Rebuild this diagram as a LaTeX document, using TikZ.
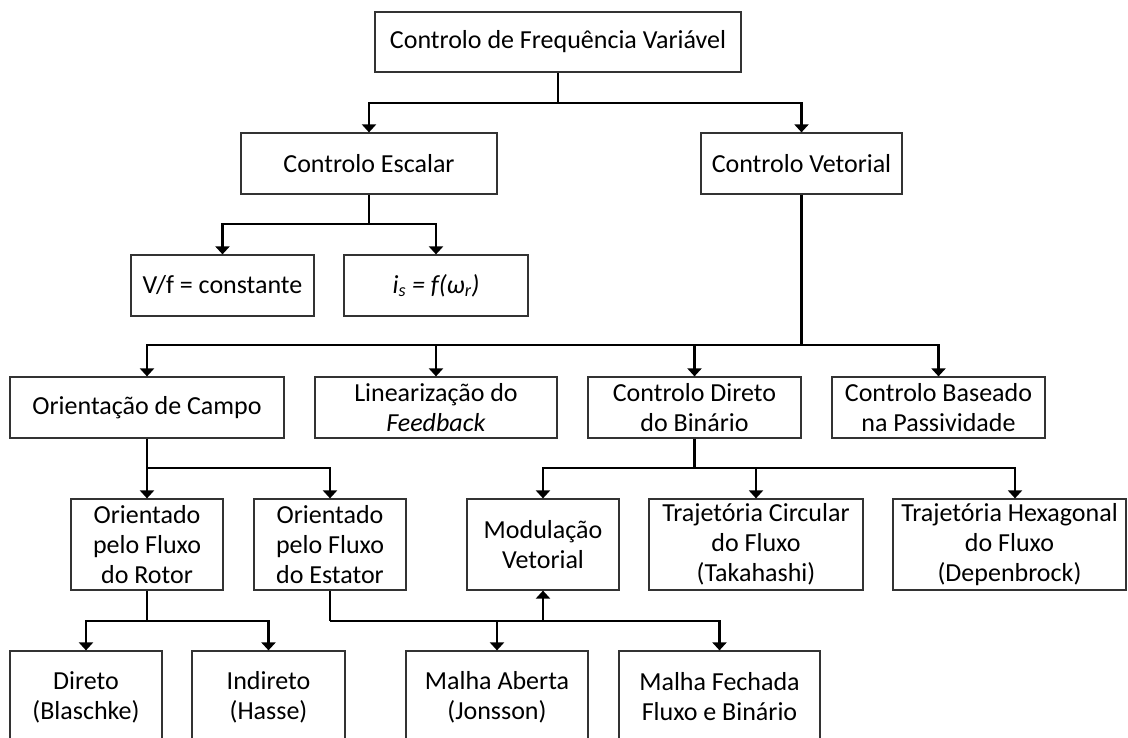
\documentclass[tikz,border=0pt]{standalone}
\usepackage{fontspec}
\setmainfont{Carlito}
\usetikzlibrary{arrows.meta}
\begin{document}
\begin{tikzpicture}[x=1pt,y=-1pt,
  box/.style={draw=black!80,line width=1.2pt,fill=white,align=center,
    inner sep=0pt,font=\fontsize{26}{30}\selectfont},
  conn/.style={draw=black,line width=2.5pt},
  arr/.style={conn,-{Triangle[width=14pt,length=8pt]}}]
\useasboundingbox (0,0) rectangle (1128,738);
\clip (0,0) rectangle (1128,738);
% row 1
\node[box,minimum width=366,minimum height=60] (top) at (558,42) {Controlo de Frequência Variável};
% row 2
\node[box,minimum width=256,minimum height=61] (esc) at (369,163.5) {Controlo Escalar};
\node[box,minimum width=201,minimum height=61] (vet) at (801.5,163.5) {Controlo Vetorial};
% row 2b
\node[box,minimum width=183,minimum height=61] (vf) at (222.5,285.5) {V/f = constante};
\node[box,minimum width=184,minimum height=61] (is) at (436,285.5) {\itshape i\textsubscript{s} = f(ω\textsubscript{r})};
% row 3
\node[box,minimum width=274,minimum height=61] (oc) at (147,407.5) {Orientação de Campo};
\node[box,minimum width=242,minimum height=61] (lin) at (436,407.5) {Linearização do\\\textit{Feedback}};
\node[box,minimum width=213,minimum height=61] (ctd) at (694.5,407.5) {Controlo Direto\\do Binário};
\node[box,minimum width=213,minimum height=61] (cbp) at (938.5,407.5) {Controlo Baseado\\na Passividade};
% row 4
\node[box,minimum width=152,minimum height=91] (rot) at (147,544.5) {Orientado\\pelo Fluxo\\do Rotor};
\node[box,minimum width=152,minimum height=91] (est) at (330,544.5) {Orientado\\pelo Fluxo\\do Estator};
\node[box,minimum width=152,minimum height=91] (mod) at (543,544.5) {Modulação\\Vetorial};
\node[box,minimum width=214,minimum height=91] (tc) at (756,544.5) {Trajetória Circular\\do Fluxo\\(Takahashi)};
\node[box,minimum width=233,minimum height=91] (th) at (1009.5,544.5) {Trajetória Hexagonal\\do Fluxo\\(Depenbrock)};
% row 5
\node[box,minimum width=152,minimum height=92] (dir) at (86,697) {Direto\\(Blaschke)};
\node[box,minimum width=153,minimum height=92] (ind) at (268.5,697) {Indireto\\(Hasse)};
\node[box,minimum width=182,minimum height=92] (ma) at (497,697) {Malha Aberta\\(Jonsson)};
\node[box,minimum width=201,minimum height=92] (mf) at (719.5,697) {Malha Fechada\\Fluxo e Binário};
% junctions
\coordinate (j1) at (558,103);
\coordinate (j2) at (369,224);
\coordinate (j3) at (801.5,345);
\coordinate (j4) at (147,468);
\coordinate (j5) at (694.5,468);
\coordinate (j6) at (147,621);
\coordinate (j7) at (330,621);
\coordinate (j8) at (543,621);
% connectors
\draw[conn] (top.south) -- (j1);
\draw[arr] (j1) -| (esc.north);
\draw[arr] (j1) -| (vet.north);
\draw[conn] (esc.south) -- (j2);
\draw[arr] (j2) -| (vf.north);
\draw[arr] (j2) -| (is.north);
\draw[conn] (vet.south) -- (j3);
\draw[arr] (j3) -| (oc.north);
\draw[arr] (j3) -| (lin.north);
\draw[arr] (j3) -| (ctd.north);
\draw[arr] (j3) -| (cbp.north);
\draw[conn] (oc.south) -- (j4);
\draw[arr] (j4) -| (rot.north);
\draw[arr] (j4) -| (est.north);
\draw[conn] (ctd.south) -- (j5);
\draw[arr] (j5) -| (mod.north);
\draw[arr] (j5) -| (tc.north);
\draw[arr] (j5) -| ([xshift=5.5]th.north);
\draw[conn] (rot.south) -- (j6);
\draw[arr] (j6) -| (dir.north);
\draw[arr] (j6) -| (ind.north);
\draw[conn] (est.south) -- (j7);
\draw[arr] (j7) -| (ma.north);
\draw[arr] (j7) -| (mf.north);
\draw[arr] (j8) -- (mod.south);
\end{tikzpicture}
\end{document}
